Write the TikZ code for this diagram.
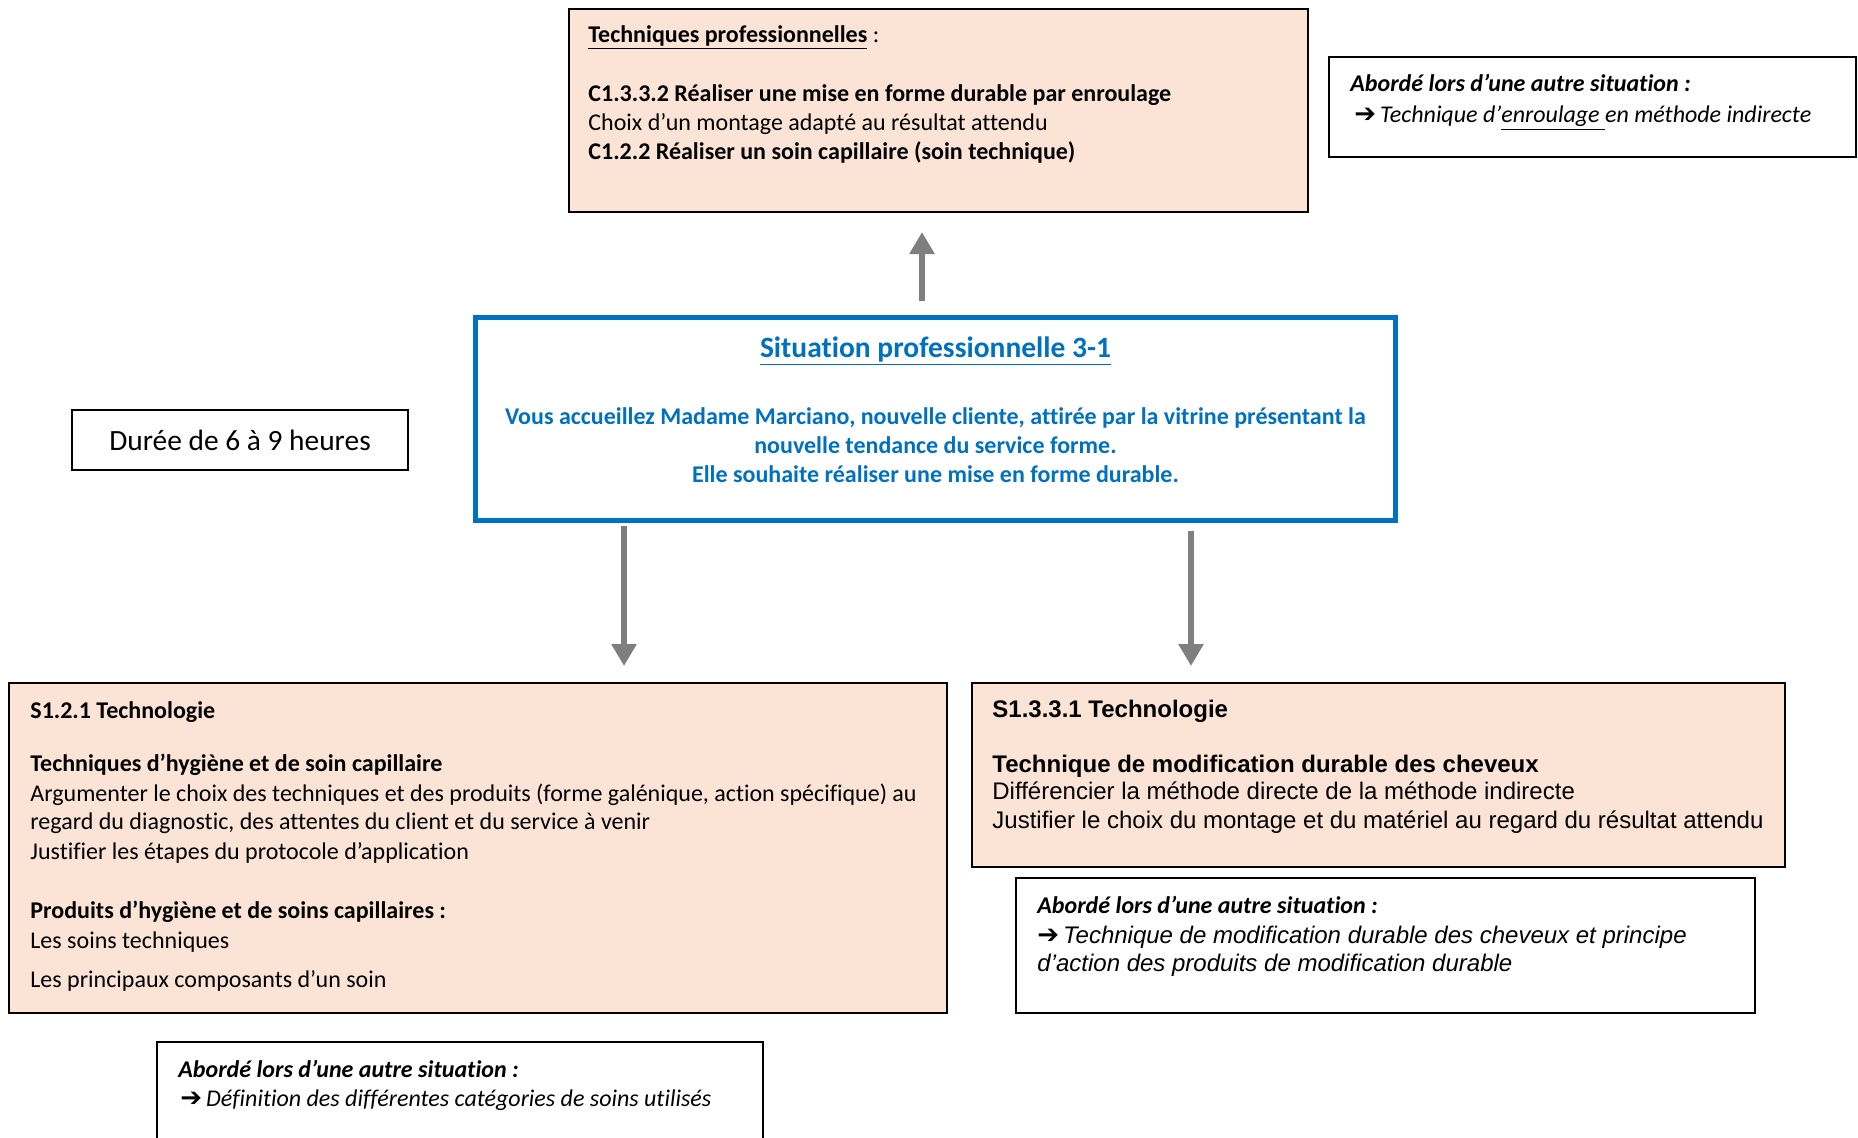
\documentclass[tikz,border=0pt]{standalone}
\usepackage{fontspec}
\setmainfont{Carlito}[Ligatures=NoCommon]
\newfontfamily\arialfont{Liberation Sans}[Ligatures=NoCommon]
\newfontfamily\symfont{DejaVu Sans}
\usetikzlibrary{arrows.meta,fit}
\definecolor{peach}{HTML}{FBE4D5}
\definecolor{wblue}{HTML}{0070C0}
\definecolor{agray}{HTML}{7F7F7F}
\newcommand{\harrow}{{\symfont\fontsize{13}{14}\selectfont ➔}}
\tikzset{
  box/.style={draw=black, line width=1pt, inner sep=0pt, rectangle},
  peachbox/.style={box, fill=peach},
  txt/.style={anchor=base west, inner sep=0pt, font=\fontsize{12}{14.65}\selectfont},
  ctxt/.style={anchor=base, inner sep=0pt, font=\fontsize{12}{14.65}\selectfont},
  atxt/.style={anchor=base west, inner sep=0pt, font=\arialfont\fontsize{12}{14}\selectfont},
  arr/.style={draw=agray, line width=3pt, -{Triangle[width=12pt,length=11pt]}},
}
\begin{document}
\begin{tikzpicture}[x=0.5pt,y=-0.5pt]
\useasboundingbox (0,0) rectangle (1858,1137);
\clip (0,0) rectangle (1858,1137);
% boxes
\node[peachbox, fit={(569,9) (1308,212)}] (top) {};
\node[box, fit={(1329,57) (1856,157)}] (topnote) {};
\node[box, draw=wblue, line width=2.5pt, fit={(475.5,317.5) (1395.5,520.5)}] (sit) {};
\node[box, fit={(72,410) (408,470)}] (dur) {};
\node[peachbox, fit={(9,683) (947,1013)}] (s121) {};
\node[peachbox, fit={(972,683) (1785,867)}] (s1331) {};
\node[box, fit={(1016,878) (1755,1013)}] (note2) {};
\node[box, fit={(157,1042) (763,1160)}] (note3) {};
% connectors
\coordinate (xu) at (922,0);
\coordinate (xl) at (624,0);
\coordinate (xr) at (1191,0);
\draw[arr, shorten <=7pt, shorten >=9.5pt] (sit.north -| xu) -- (top.south -| xu);
\draw[arr, shorten <=1.5pt, shorten >=8pt] (sit.south -| xl) -- (s121.north -| xl);
\draw[arr, shorten <=4pt, shorten >=8pt] (sit.south -| xr) -- (s1331.north -| xr);
% top box text
\node[txt] (t1) at (588,42) {\textbf{\underline{Techniques professionnelles}} :};
\node[txt] (t2) at (588,101) {\textbf{C1.3.3.2 Réaliser une mise en forme durable par enroulage}};
\node[txt] (t3) at (588,130) {Choix d’un montage adapté au résultat attendu};
\node[txt] (t4) at (588,159) {\textbf{C1.2.2 Réaliser un soin capillaire (soin technique)}};
% top note
\node[txt] (n1) at (1350,91) {\textbf{\textit{Abordé lors d’une autre situation :}}};
\node[txt] (n2) at (1354,122) {\harrow\,\textit{Technique d’\underline{enroulage\ }en méthode indirecte}};
% situation
\node[ctxt, font=\fontsize{14.75}{17}\selectfont\bfseries, text=wblue] (s0) at (935.5,357) {\underline{Situation professionnelle 3-1}};
\node[ctxt, font=\fontsize{12}{14.65}\selectfont\bfseries, text=wblue] (s1) at (935.5,424) {Vous accueillez Madame Marciano, nouvelle cliente, attirée par la vitrine présentant la};
\node[ctxt, font=\fontsize{12}{14.65}\selectfont\bfseries, text=wblue] (s2) at (935.5,453) {nouvelle tendance du service forme.};
\node[ctxt, font=\fontsize{12}{14.65}\selectfont\bfseries, text=wblue] (s3) at (935.5,482) {Elle souhaite réaliser une mise en forme durable.};
% duration
\node[ctxt, font=\fontsize{14.7}{17}\selectfont] (d1) at (240,450) {Durée de 6 à 9 heures};
% S1.2.1
\node[txt] (a1) at (30,718) {\textbf{S1.2.1 Technologie}};
\node[txt] (a2) at (30,771) {\textbf{Techniques d’hygiène et de soin capillaire}};
\node[txt] (a3) at (30,801) {Argumenter le choix des techniques et des produits (forme galénique, action spécifique) au};
\node[txt] (a4) at (30,829) {regard du diagnostic, des attentes du client et du service à venir};
\node[txt] (a5) at (30,859) {Justifier les étapes du protocole d’application};
\node[txt] (a6) at (30,918) {\textbf{Produits d’hygiène et de soins capillaires :}};
\node[txt] (a7) at (30,948) {Les soins techniques};
\node[txt] (a8) at (30,987) {Les principaux composants d’un soin};
% S1.3.3.1
\node[atxt, font=\arialfont\fontsize{12}{14}\selectfont\bfseries] (b1) at (992,717) {S1.3.3.1 Technologie};
\node[atxt, font=\arialfont\fontsize{12}{14}\selectfont\bfseries] (b2) at (992,772) {Technique de modification durable des cheveux};
\node[atxt] (b3) at (992,799) {Différencier la méthode directe de la méthode indirecte};
\node[atxt] (b4) at (992,828) {Justifier le choix du montage et du matériel au regard du résultat attendu};
% note 2
\node[txt] (c1) at (1037,913) {\textbf{\textit{Abordé lors d’une autre situation :}}};
\node[atxt] (c2) at (1037,943) {\harrow\,\textit{Technique de modification durable des cheveux et principe}};
\node[atxt] (c3) at (1037,971) {\textit{d’action des produits de modification durable}};
% note 3
\node[txt] (e1) at (178,1077) {\textbf{\textit{Abordé lors d’une autre situation :}}};
\node[txt] (e2) at (180,1106) {\harrow\,\textit{Définition des différentes catégories de soins utilisés}};
\end{tikzpicture}
\end{document}
